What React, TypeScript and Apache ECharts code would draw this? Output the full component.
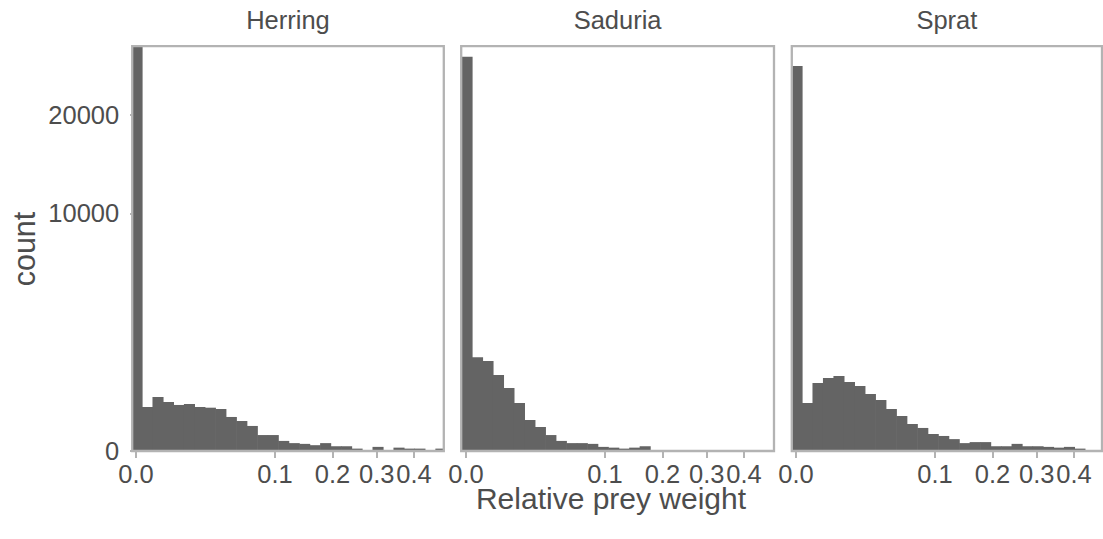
import React, { useEffect, useRef } from "react";
import * as echarts from "echarts";

// ---- data ----
const panelNames = ["Herring", "Saduria", "Sprat"];
// histogram bins are equal-width on the sqrt-transformed x scale
const binWidthSqrt = 0.02384;
const firstBinLeftSqrt = -0.0102;
const herringCounts = [29000, 343, 516, 425, 375, 391, 343, 332, 312, 205, 159, 111, 45, 45, 18, 11, 9, 6, 11, 4, 4, 1, 0, 3, 0, 2, 1, 1, 0, 1];
const saduriaCounts = [27520, 1554, 1434, 1022, 702, 408, 170, 102, 45, 18, 11, 11, 9, 3, 2, 1, 2, 4, 0, 0, 0, 0, 0, 0, 0, 0, 0, 0, 0, 0];
const spratCounts = [26240, 408, 818, 943, 996, 843, 748, 575, 460, 312, 217, 129, 94, 51, 40, 25, 11, 14, 14, 4, 4, 9, 4, 4, 3, 2, 3, 1, 0, 0];
const xTickValues = [0, 0.1, 0.2, 0.3, 0.4];
const yTickValues = [0, 10000, 20000];
const yMaxCount = 29000;
const xAxisTitle = "Relative prey weight";
const yAxisTitle = "count";

// ---- layout ----
const pxPerSqrtUnit = 439.5;
const gridLefts = [132.2, 461.2, 791.8];
const gridWidths = [311.6, 312.8, 310.2];
const zeroPx = [136, 466, 796];
const gridTop = 46.2;
const gridHeight = 404.8;

const textColor = "#4d4d4d";
const barColor = "#646464";
const borderColor = "#b3b3b3";
const fontFamily = "'Liberation Sans', Arial, sans-serif";
const tickFont = 25.5;

export default function App() {
  const ref = useRef<HTMLDivElement>(null);
  useEffect(() => {
    if (!ref.current) return;
    const chart = echarts.init(ref.current, null, { renderer: "svg" });
    const allCounts = [herringCounts, saduriaCounts, spratCounts];

    const grids = panelNames.map((_, i) => ({
      left: gridLefts[i],
      top: gridTop,
      width: gridWidths[i],
      height: gridHeight,
      show: true,
      z: 10,
      backgroundColor: "transparent",
      borderColor,
      borderWidth: 2.3,
      containLabel: false,
    }));

    const xAxes = panelNames.map((_, i) => {
      const min = (gridLefts[i] - zeroPx[i]) / pxPerSqrtUnit;
      const max = min + gridWidths[i] / pxPerSqrtUnit;
      return {
        type: "value",
        gridIndex: i,
        min,
        max,
        axisLine: { show: false },
        splitLine: { show: false },
        axisTick: {
          show: true,
          length: 7,
          customValues: xTickValues.map(Math.sqrt),
          lineStyle: { color: borderColor, width: 2 },
        },
        axisLabel: {
          show: true,
          customValues: xTickValues.map(Math.sqrt),
          formatter: (v: number) => (v * v).toFixed(1),
          color: textColor,
          fontSize: tickFont,
          fontFamily,
          margin: 10,
          hideOverlap: false,
        },
      };
    });

    const yAxes = panelNames.map((_, i) => ({
      type: "value",
      gridIndex: i,
      min: 0,
      max: Math.sqrt(yMaxCount),
      axisLine: { show: false },
      splitLine: { show: false },
      axisTick: {
        show: i === 0,
        length: 6,
        customValues: yTickValues.map(Math.sqrt),
        lineStyle: { color: borderColor, width: 2 },
      },
      axisLabel: {
        show: i === 0,
        customValues: yTickValues.map(Math.sqrt),
        formatter: (v: number) => String(Math.round(v * v)),
        color: textColor,
        fontSize: tickFont,
        fontFamily,
        margin: 13,
      },
    }));

    const series = panelNames.map((name, i) => ({
      type: "custom",
      name,
      xAxisIndex: i,
      yAxisIndex: i,
      z: 2,
      data: allCounts[i].map((c, k) => [
        firstBinLeftSqrt + k * binWidthSqrt,
        firstBinLeftSqrt + (k + 1) * binWidthSqrt,
        Math.sqrt(c),
      ]),
      renderItem: (params: any, api: any) => {
        const x0 = api.value(0);
        const x1 = api.value(1);
        const h = api.value(2);
        if (h <= 0) return null;
        const p0 = api.coord([x0, 0]);
        const p1 = api.coord([x1, h]);
        const cs = params.coordSys;
        const shape = echarts.graphic.clipRectByRect(
          { x: p0[0], y: p1[1], width: p1[0] - p0[0] + 0.6, height: p0[1] - p1[1] },
          { x: cs.x, y: cs.y, width: cs.width, height: cs.height }
        );
        if (!shape) return null;
        return { type: "rect", shape, style: { fill: barColor } };
      },
    }));

    const graphics: any[] = panelNames.map((name, i) => ({
      type: "text",
      x: gridLefts[i] + gridWidths[i] / 2,
      y: 20,
      style: {
        text: name,
        fill: textColor,
        fontSize: tickFont,
        fontFamily,
        align: "center",
        verticalAlign: "middle",
      },
    }));
    graphics.push({
      type: "text",
      x: 611,
      y: 498,
      style: {
        text: xAxisTitle,
        fill: textColor,
        fontSize: 30,
        fontFamily,
        align: "center",
        verticalAlign: "middle",
      },
    });
    graphics.push({
      type: "text",
      x: 24,
      y: 249,
      rotation: Math.PI / 2,
      style: {
        text: yAxisTitle,
        fill: textColor,
        fontSize: 30.5,
        fontFamily,
        align: "center",
        verticalAlign: "middle",
      },
    });

    chart.setOption({
      animation: false,
      backgroundColor: "#ffffff",
      grid: grids,
      xAxis: xAxes,
      yAxis: yAxes,
      series,
      graphic: graphics,
    });
    return () => chart.dispose();
  }, []);
  return (
    <div
      ref={ref}
      style={{ position: "absolute", left: 0, top: 0, width: 1103, height: 539 }}
    />
  );
}
